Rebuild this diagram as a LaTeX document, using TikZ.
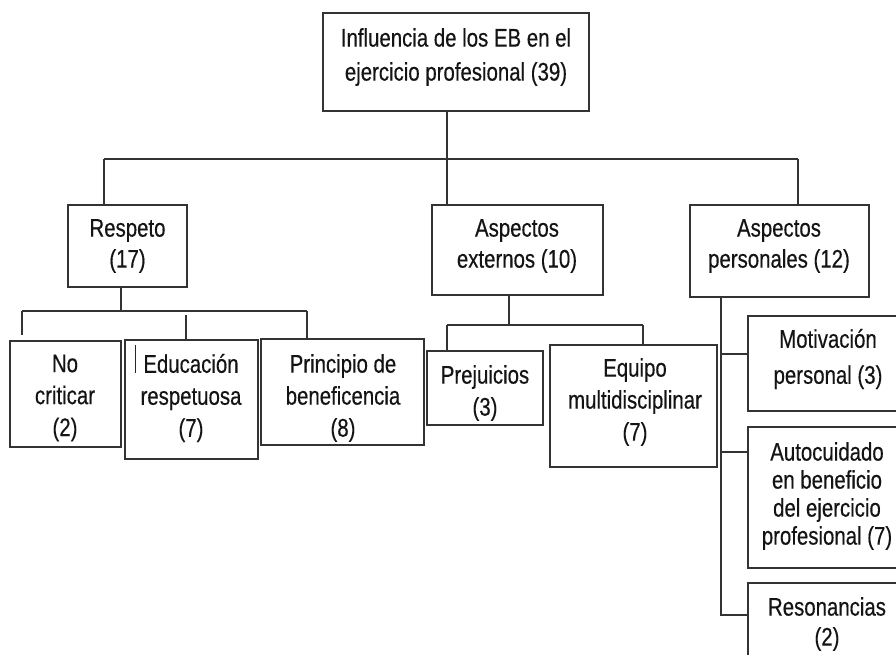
\documentclass[tikz,border=0pt]{standalone}
\usepackage{fontspec}
\setmainfont{Liberation Sans}[FakeStretch=0.80, FakeBold=0.4]
\usetikzlibrary{calc}
\begin{document}
\begin{tikzpicture}[x=1pt,y=-1pt,
  box/.style={draw=black!80, line width=1.2pt, inner sep=0pt, fill=white},
  txt/.style={align=center, text=black!92, inner sep=0pt, font=\fontsize{25.5}{32}\selectfont},
  conn/.style={draw=black!80, line width=1.1pt}]
\useasboundingbox (0,0) rectangle (896,654);
\clip (0,0) rectangle (896,654);
\fill[white] (0,0) rectangle (896,654);
% boxes
\node[box, minimum width=266pt, minimum height=98pt] (top) at (456,62) {};
\node[box, minimum width=119pt, minimum height=82pt] (resp) at (127.5,246) {};
\node[box, minimum width=171pt, minimum height=90pt] (aext) at (517.5,250) {};
\node[box, minimum width=179pt, minimum height=92pt] (apers) at (779.5,251) {};
\node[box, minimum width=111pt, minimum height=106pt] (nocrit) at (65.5,394) {};
\node[box, minimum width=133pt, minimum height=119pt] (educ) at (191.5,399.5) {};
\node[box, minimum width=163pt, minimum height=106pt] (princ) at (342.5,392) {};
\node[box, minimum width=116pt, minimum height=74pt] (prej) at (485,388) {};
\node[box, minimum width=167pt, minimum height=122pt] (equipo) at (633.5,406) {};
\node[box, minimum width=162pt, minimum height=95pt] (motiv) at (829,363.5) {};
\node[box, minimum width=162pt, minimum height=141pt] (auto) at (829,497.5) {};
\node[box, minimum width=162pt, minimum height=97pt] (reson) at (829,631.5) {};
% texts
\node[txt, font=\fontsize{25.5}{34}\selectfont] (topT) at (456,57) {Influencia de los EB en el\\ejercicio profesional (39)};
\node[txt, font=\fontsize{25.5}{31}\selectfont] (respT) at (127.5,246) {Respeto\\(17)};
\node[txt, font=\fontsize{25.5}{31}\selectfont] (aextT) at (517,246) {Aspectos\\externos (10)};
\node[txt, font=\fontsize{25.5}{31}\selectfont] (apersT) at (779,246) {Aspectos\\personales (12)};
\node[txt] (nocritT) at (65,398) {No\\criticar\\(2)};
\node[txt] (educT) at (191,398) {Educación\\respetuosa\\(7)};
\node[txt] (princT) at (343,398) {Principio de\\beneficencia\\(8)};
\node[txt] (prejT) at (485,393) {Prejuicios\\(3)};
\node[txt] (equipoT) at (635,402) {Equipo\\multidisciplinar\\(7)};
\node[txt, font=\fontsize{25.5}{36}\selectfont] (motivT) at (828,359) {Motivación\\personal (3)};
\node[txt, font=\fontsize{25.5}{28}\selectfont] (autoT) at (827,496) {Autocuidado\\en beneficio\\del ejercicio\\profesional (7)};
\node[txt, font=\fontsize{25.5}{30}\selectfont] (resonT) at (827,624) {Resonancias\\(2)};
% stray bar
\draw[line width=1pt, black!85] (135,345) -- (135,373);
% level 1 connectors
\coordinate (h1) at (104,159);
\coordinate (h2) at (447,159);
\coordinate (h3) at (798,159);
\draw[conn] (top.south -| h2) -- (h2);
\draw[conn] (h1) -- (h3);
\draw[conn] (h1) -- (resp.north -| h1);
\draw[conn] (h2) -- (aext.north -| h2);
\draw[conn] (h3) -- (apers.north -| h3);
% respeto group
\coordinate (rj) at (121,311);
\coordinate (r1) at (22,311);
\coordinate (r2) at (186,315);
\coordinate (r3) at (307,311);
\draw[conn] (resp.south -| rj) -- (rj);
\draw[conn] (r1) -- (r3);
\draw[conn] (r1) -- ($(r1)+(0,24)$);
\draw[conn] (r2) -- (educ.north -| r2);
\draw[conn] (r3) -- (princ.north -| r3);
% aspectos externos group
\coordinate (ej) at (509,325);
\coordinate (e1) at (447,325);
\coordinate (e2) at (643,325);
\draw[conn] (aext.south -| ej) -- (ej);
\draw[conn] (e1) -- (e2);
\draw[conn] (e1) -- (prej.north -| e1);
\draw[conn] (e2) -- (equipo.north -| e2);
% aspectos personales group
\coordinate (pm) at (721,354);
\coordinate (pa) at (721,452);
\coordinate (pv) at (721,615);
\draw[conn] (apers.south -| pv) -- (pv) -- (reson.west |- pv);
\draw[conn] (pm) -- (motiv.west |- pm);
\draw[conn] (pa) -- (auto.west |- pa);
\end{tikzpicture}
\end{document}
